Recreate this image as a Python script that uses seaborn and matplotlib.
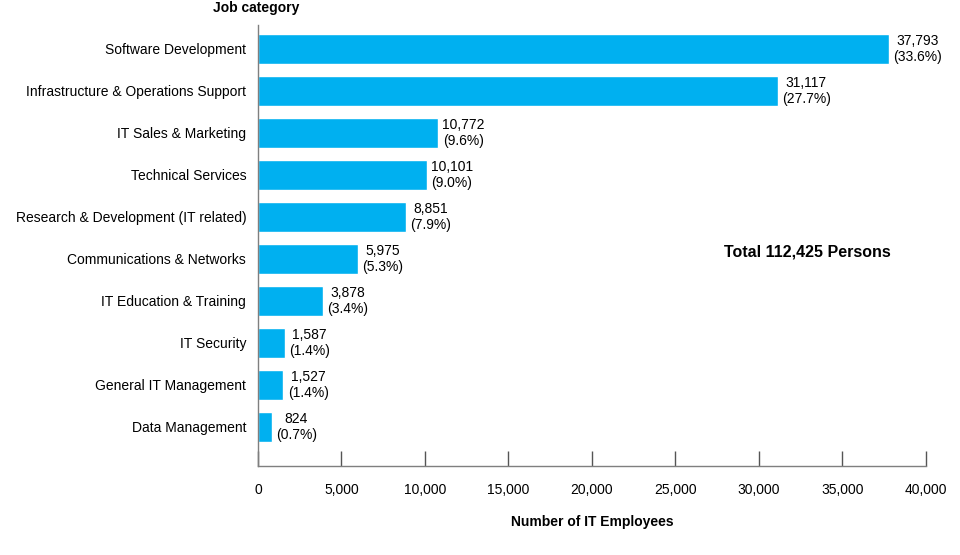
import matplotlib
matplotlib.use("Agg")
import matplotlib.pyplot as plt
import seaborn as sns
import pandas as pd

# Data
categories = [
    "Software Development",
    "Infrastructure & Operations Support",
    "IT Sales & Marketing",
    "Technical Services",
    "Research & Development (IT related)",
    "Communications & Networks",
    "IT Education & Training",
    "IT Security",
    "General IT Management",
    "Data Management",
]
employees = [37793, 31117, 10772, 10101, 8851, 5975, 3878, 1587, 1527, 824]
shares = [33.6, 27.7, 9.6, 9.0, 7.9, 5.3, 3.4, 1.4, 1.4, 0.7]
total = 112425

sns.set_theme(style="white")
plt.rcParams['font.family'] = ['Liberation Sans', 'DejaVu Sans']
plt.rcParams['text.color'] = 'black'
plt.rcParams['axes.labelcolor'] = 'black'
plt.rcParams['xtick.labelcolor'] = 'black'
plt.rcParams['ytick.labelcolor'] = 'black'

df = pd.DataFrame({"category": categories, "employees": employees})

fig = plt.figure(figsize=(9.6, 5.55), dpi=100)
ax = fig.add_axes([0.26875, 0.1604, 0.6958, 0.7946])

sns.barplot(data=df, x="employees", y="category", orient="h",
            color="#00B0F0", saturation=1, width=0.72, ax=ax)

# value labels: count over share, block to the right of each bar
for i, (v, p) in enumerate(zip(employees, shares)):
    ax.text(v + 250, i, f"{v:,}\n({p:.1f}%)", ha="left", va="center",
            multialignment="center", fontsize=10, linespacing=1.15,
            color="black")

ax.set_xlim(0, 40000)
ax.set_ylim(9.93, -0.57)
ax.set_xticks(range(0, 40001, 5000))
ax.set_xticklabels([f"{t:,}" for t in range(0, 40001, 5000)], fontsize=10)
ax.tick_params(axis="x", direction="in", length=11, width=1, color="#555555",
               pad=12, bottom=True, labelcolor="black")
ax.tick_params(axis="y", length=0, pad=8.5, labelsize=10, labelcolor="black")
for s in ["top", "right"]:
    ax.spines[s].set_visible(False)
for s in ["left", "bottom"]:
    ax.spines[s].set_color("#7f7f7f")
    ax.spines[s].set_linewidth(1)

ax.set_ylabel("")
ax.set_xlabel("Number of IT Employees", fontsize=10, fontweight="bold",
              labelpad=13, color="black")

fig.text(213 / 960, 1 - 8 / 555, "Job category", fontsize=10, fontweight="bold",
         ha="left", va="center", color="black")
ax.text(0.822, 0.485, f"Total {total:,} Persons", transform=ax.transAxes,
        fontsize=11.5, fontweight="bold", ha="center", va="center",
        color="black")

fig.savefig("out.png", dpi=100)
